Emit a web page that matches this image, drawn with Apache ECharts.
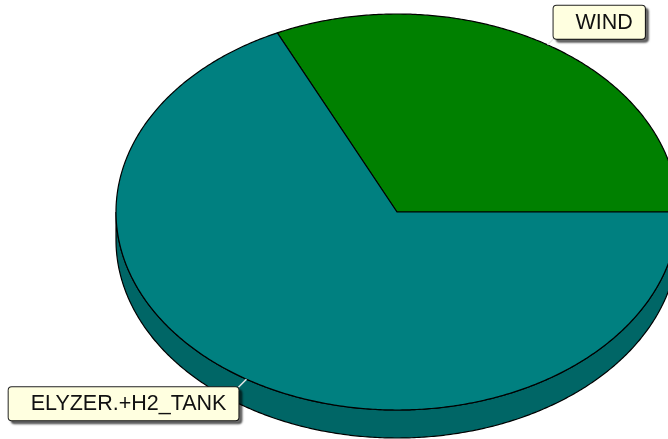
<!DOCTYPE html>
<html>
<head>
<meta charset="utf-8">
<script src="https://cdn.jsdelivr.net/npm/echarts@6/dist/echarts.min.js"></script>
<style>
html,body{margin:0;padding:0;background:#fff;}
#chart{width:668px;height:439px;}
</style>
</head>
<body>
<div id="chart"></div>
<script>
// ---- data ----
const categories = ['WIND', 'ELYZER.+H2_TANK'];
const values = [32, 68];

// ---- styles ----
const topColors = ['#008000', '#008080'];
const sideColors = ['#005a00', '#006666'];

const chart = echarts.init(document.getElementById('chart'), null, {renderer: 'canvas'});
const geo = {cx: 397, cy: 212, rx: 281, ry: 198, depth: 28};
const total = values.reduce((a, b) => a + b, 0);

function pt(tDeg, dy) {
  const t = tDeg * Math.PI / 180;
  return [geo.cx + geo.rx * Math.cos(t), geo.cy - geo.ry * Math.sin(t) + (dy || 0)];
}

function renderItem(params, api) {
  const i = params.dataIndex;
  const v = api.value(0);
  let before = 0;
  for (let k = 0; k < i; k++) before += values[k];
  const a0 = before / total * 360;
  const a1 = (before + v) / total * 360;
  const children = [];

  // side wall (front half: 180..360)
  const s0 = Math.max(a0, 180), s1 = Math.min(a1, 360);
  if (s1 > s0) {
    const topArc = [], botArc = [];
    const n = Math.max(2, Math.ceil((s1 - s0) * 2));
    for (let k = 0; k <= n; k++) {
      const t = s0 + (s1 - s0) * k / n;
      topArc.push(pt(t, 0));
      botArc.push(pt(t, geo.depth));
    }
    children.push({
      type: 'polygon',
      z2: 1,
      shape: {points: topArc.concat(botArc.reverse())},
      style: {fill: sideColors[i], stroke: '#000', lineWidth: 1.2}
    });
  }

  // top face
  const pts = [[geo.cx, geo.cy]];
  const n = Math.max(2, Math.ceil((a1 - a0) * 2));
  for (let k = 0; k <= n; k++) pts.push(pt(a0 + (a1 - a0) * k / n, 0));
  children.push({
    type: 'polygon',
    z2: 2,
    shape: {points: pts},
    style: {fill: topColors[i], stroke: '#000', lineWidth: 1.2}
  });

  // label
  const mid = (a0 + a1) / 2;
  const P = pt(mid, 0);
  const c = Math.cos(mid * Math.PI / 180), s = Math.sin(mid * Math.PI / 180);
  const right = c >= 0, up = s >= 0;
  const lx = P[0] + (right ? 6 : -8);
  const ly = P[1] + (up ? -6 : 8);
  children.push({
    type: 'line',
    z2: 50,
    shape: {x1: P[0], y1: P[1], x2: lx, y2: ly},
    style: {stroke: '#e8e8e8', lineWidth: 1.5}
  });
  children.push({
    type: 'text',
    z2: 100,
    style: {
      text: categories[i],
      x: lx,
      y: ly,
      align: right ? 'left' : 'right',
      verticalAlign: up ? 'bottom' : 'top',
      font: '21.5px "Liberation Sans", Arial, sans-serif',
      fill: '#111',
      backgroundColor: '#ffffe0',
      borderColor: '#222',
      borderWidth: 1,
      borderRadius: 3,
      padding: [6, 12, 5, 22],
      shadowColor: 'rgba(0,0,0,0.55)',
      shadowOffsetX: 3,
      shadowOffsetY: 3,
      shadowBlur: 2
    }
  });

  return {type: 'group', children: children};
}

chart.setOption({
  animation: false,
  backgroundColor: '#ffffff',
  series: [{
    type: 'custom',
    coordinateSystem: 'none',
    renderItem: renderItem,
    data: values.map((v, i) => ({name: categories[i], value: [v]}))
  }]
});
</script>
</body>
</html>
